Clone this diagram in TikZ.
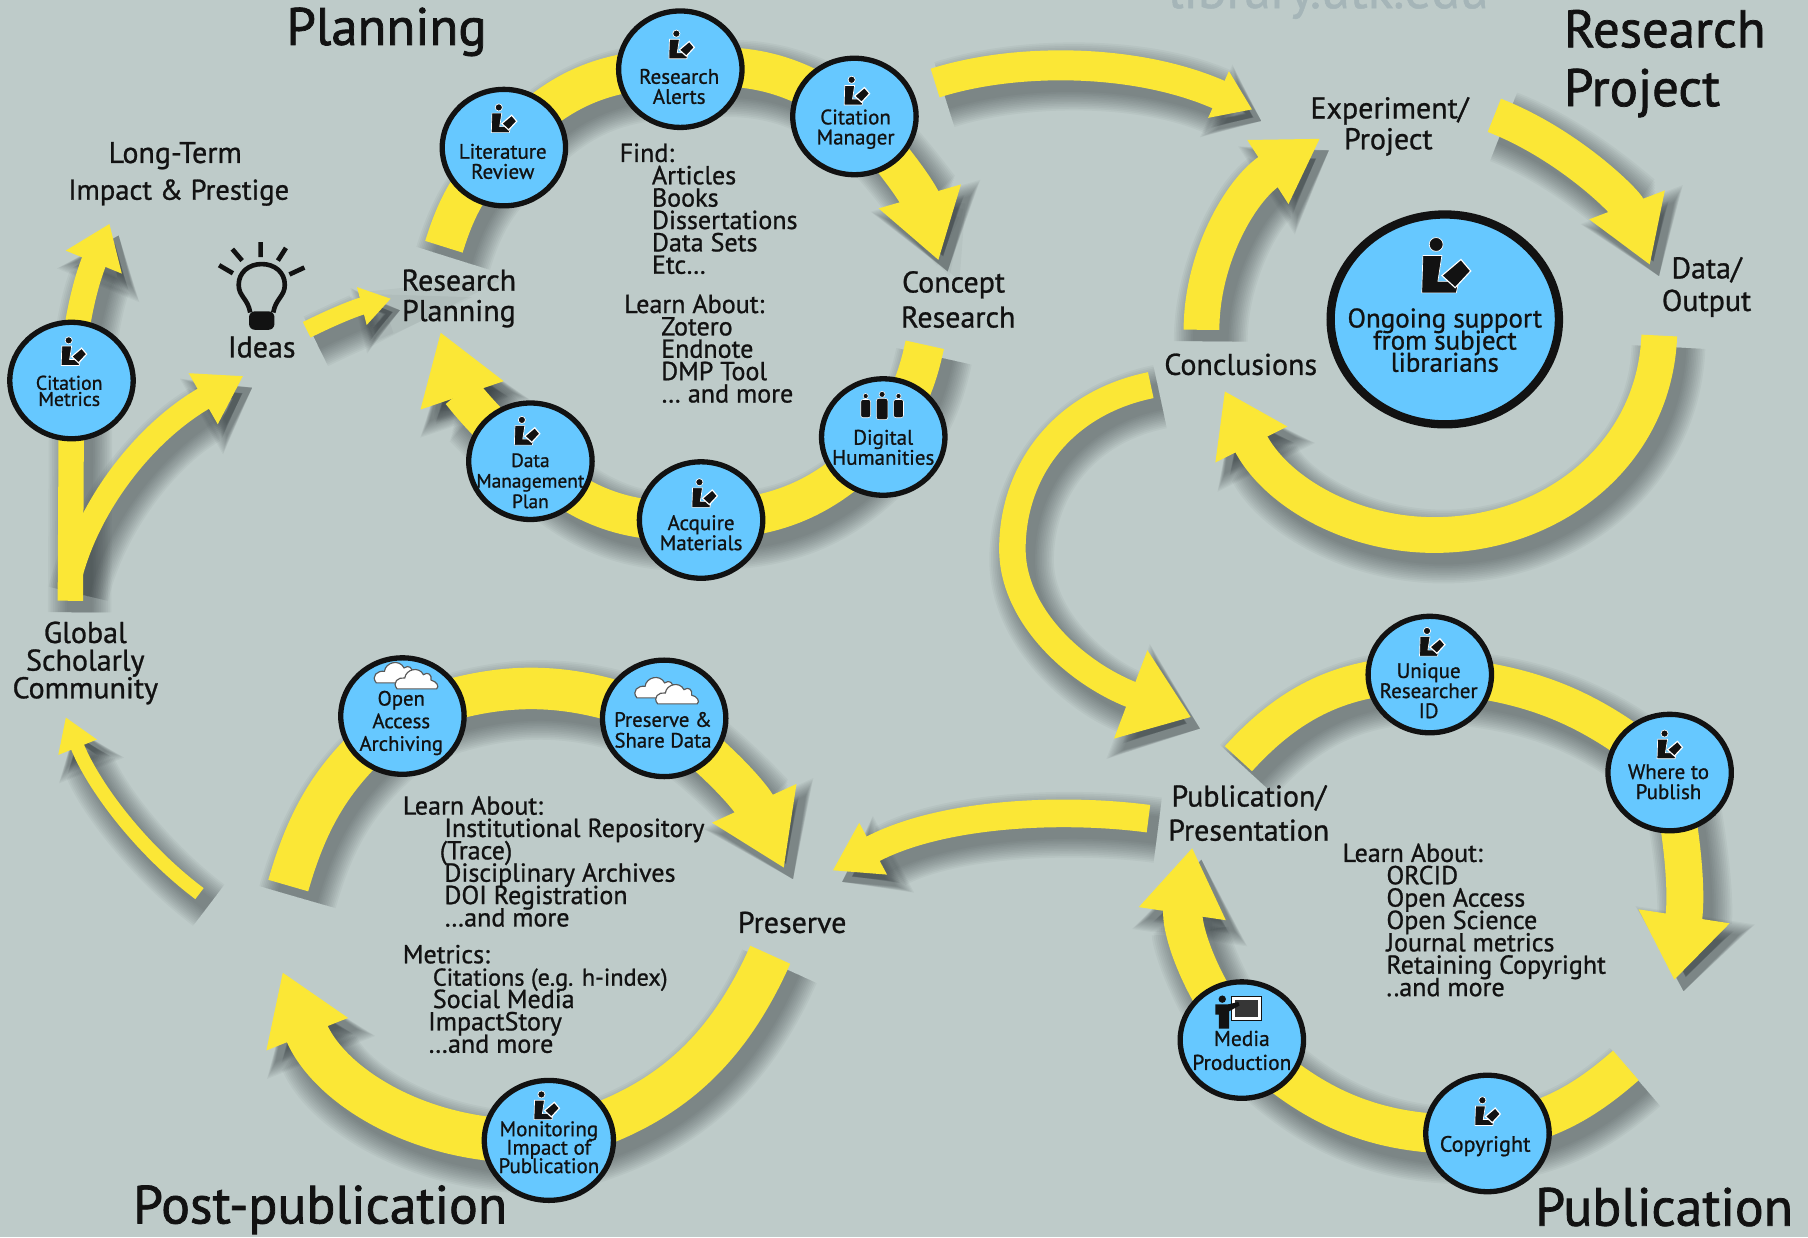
\documentclass[tikz,border=0pt]{standalone}
\usepackage{fontspec}
\setmainfont{PT Sans}[FakeBold=0.9]
\newfontfamily\ttlfont{PT Sans}[FakeBold=1.4]
\usetikzlibrary{arrows.meta,shapes.geometric}
\normallineskiplimit=-10pt
\lineskiplimit=-10pt
\definecolor{bgc}{RGB}{190,203,201}
\definecolor{yel}{RGB}{251,231,54}
\definecolor{blu}{RGB}{102,200,255}
\definecolor{shc}{RGB}{40,46,50}
\definecolor{faded}{RGB}{165,181,184}
\definecolor{ink}{RGB}{18,18,18}
\pgfdeclarelayer{bgl}\pgfdeclarelayer{shadowl}\pgfdeclarelayer{arrowl}
\pgfsetlayers{bgl,shadowl,arrowl,main}
% #1 band width, #2 head length, #3 head width, #4 path (all in picture units)
\newcommand\yarrow[4]{%
  \begin{pgfonlayer}{shadowl}
  \begin{scope}[transform canvas={xshift=4pt,yshift=-5pt}]
  \foreach \k in {0,...,11}{%
    \pgfmathsetlengthmacro\lw{#1*.5pt+\k*1.5pt}%
    \pgfmathsetlengthmacro\hl{#2*.5pt+\k*.5pt}%
    \pgfmathsetlengthmacro\hw{#3*.5pt+\k*1.1pt}%
    \draw[shc,opacity=.045,line width=\lw,-{Triangle[length=\hl,width=\hw]}] #4;
  }
  \end{scope}
  \end{pgfonlayer}
  \begin{pgfonlayer}{arrowl}
  \pgfmathsetlengthmacro\lw{#1*.5pt}%
  \pgfmathsetlengthmacro\hl{#2*.5pt}%
  \pgfmathsetlengthmacro\hw{#3*.5pt}%
  \draw[yel,line width=\lw,-{Triangle[length=\hl,width=\hw]}] #4;
  \end{pgfonlayer}
}
\tikzset{
  x=.5pt,y=-.5pt,
  bub/.style={ellipse,draw=ink,fill=blu,line width=2.3pt,minimum width=53.5pt,minimum height=50.5pt,inner sep=0pt,outer sep=0pt},
  bubtxt/.style={align=center,inner sep=0pt,text=ink,font=\fontsize{9.1}{8.7}\selectfont},
  lab/.style={align=center,inner sep=0pt,text=ink,font=\fontsize{13}{14}\selectfont},
  lst/.style={anchor=north west,align=left,inner sep=0pt,text=ink,font=\fontsize{11.3}{9.7}\selectfont},
  ttl/.style={anchor=mid west,inner sep=0pt,text=ink,font=\ttlfont\fontsize{22.9}{25}\selectfont},
  libicon/.pic={
    \fill[ink,draw=white,line width=.3pt] (-20,-7.5) -- (-3.5,-7.5) -- (-7,15) -- (11,15) -- (9,25) -- (-21,25) -- cycle;
    \fill[ink,draw=white,line width=.3pt] (-8.5,-17) circle[radius=6];
    \fill[ink,draw=white,line width=.5pt] (13,-4) -- (21.5,6) -- (8,20.5) -- (-3.5,10) -- cycle;
  },
  peopleicon/.pic={
    \foreach \px/\s in {-15/.9,0/1.05,15/.9}{
      \fill[ink,draw=white,line width=.25pt] (\px,-10*\s) circle[radius=2.6*\s];
      \fill[ink,draw=white,line width=.25pt,rounded corners=1pt] (\px-5*\s,-6.5*\s) rectangle (\px+5*\s,12*\s);
    }
  },
  mediaicon/.pic={
    \fill[white,draw=ink,line width=.4pt] (-7,-13) rectangle (19,8);
    \fill[ink!85] (-4,-10) rectangle (16,5);
    \fill[ink] (-15,-10.5) circle[radius=3.2];
    \fill[ink] (-21,-6) -- (-10,-6) -- (-1,-8) -- (0,-5) -- (-9,0) -- (-9,15) -- (-18,15) -- (-18,3) -- (-21,3) -- cycle;
  },
  cloudshape/.pic={
    \filldraw[fill=white,draw=black!65,line width=.5pt] (-18,10) .. controls (-23,4) and (-17,-1) .. (-11,0) .. controls (-10,-8) and (2,-11) .. (6,-3) .. controls (10,-6) and (14,-3) .. (13,2) .. controls (18,3) and (21,8) .. (18,10) -- cycle;
  },
  cloudicon/.pic={
    \pic at (-8,-5) {cloudshape};
    \pic[scale=.95] at (10,1) {cloudshape};
  },
}
\begin{document}
\begin{tikzpicture}
\useasboundingbox (0,0) rectangle (1568,1073);
\begin{pgfonlayer}{bgl}
  \fill[bgc] (0,0) rectangle (1568,1073);
\end{pgfonlayer}

% ---- bubbles
\node[bub] (alerts) at (590,60) {};
\node[bub] (manager) at (741,101) {};
\node[bub] (lit) at (437,128) {};
\node[bub] (digital) at (766,379) {};
\node[bub] (acquire) at (608,451) {};
\node[bub] (dmp) at (460,400) {};
\node[bub] (metrics) at (62,330) {};
\node[bub] (uid) at (1240,585) {};
\node[bub] (where) at (1448,670) {};
\node[bub] (copyright) at (1290,983) {};
\node[bub] (media) at (1077,902) {};
\node[bub] (share) at (576,623) {};
\node[bub] (oa) at (349,621) {};
\node[bub,minimum width=56pt,minimum height=52pt] (monitor) at (476,989) {};
\node[bub,line width=3.6pt,minimum width=99pt,minimum height=91pt] (support) at (1253,277) {};

% ---- bubble texts and icons
\node[bubtxt] (alertsT) at (589,75) {Research\\Alerts};
\pic[scale=.52] at (591,38) {libicon};
\node[bubtxt] (managerT) at (742,112) {Citation\\Manager};
\pic[scale=.52] at (743,78) {libicon};
\node[bubtxt] (litT) at (436,140) {Literature\\Review};
\pic[scale=.52] at (437,102) {libicon};
\node[bubtxt] (digitalT) at (766,388) {Digital\\Humanities};
\pic[scale=.95] at (765,352) {peopleicon};
\node[bubtxt] (acquireT) at (608,462) {Acquire\\Materials};
\pic[scale=.52] at (611,427) {libicon};
\node[bubtxt,font=\fontsize{8.4}{8.9}\selectfont] (dmpT) at (460,417) {Data\\Management\\Plan};
\pic[scale=.52] at (457,373) {libicon};
\node[bubtxt,font=\fontsize{8.6}{7}\selectfont] (metricsT) at (60,339) {Citation\\Metrics};
\pic[scale=.52] at (64,304) {libicon};
\node[bubtxt] (uidT) at (1239,599) {Unique\\Researcher\\ID};
\pic[scale=.52] at (1242,556) {libicon};
\node[bubtxt] (whereT) at (1447,678) {Where to\\Publish};
\pic[scale=.52] at (1448,645) {libicon};
\node[bubtxt,font=\fontsize{9.6}{9}\selectfont] (copyrightT) at (1288,994) {Copyright};
\pic[scale=.52] at (1290,963) {libicon};
\node[bubtxt,font=\fontsize{9.3}{10.4}\selectfont] (mediaT) at (1077,911) {Media\\Production};
\pic at (1075,877) {mediaicon};
\node[bubtxt,font=\fontsize{9}{9.8}\selectfont] (oaT) at (348,627) {Open\\Access\\Archiving};
\pic[scale=.95] at (352,587) {cloudicon};
\node[bubtxt,font=\fontsize{9}{9}\selectfont] (shareT) at (575,633) {Preserve \&\\Share Data};
\pic[scale=.95] at (578,600) {cloudicon};
\node[bubtxt,font=\fontsize{9.1}{8}\selectfont] (monitorT) at (476,995) {Monitoring\\Impact of\\Publication};
\pic[scale=.52] at (474,958) {libicon};
\node[bubtxt,font=\fontsize{11.7}{9.6}\selectfont] (supportT) at (1253,295) {Ongoing support\\from subject\\librarians};
\pic[scale=1] at (1254,229) {libicon};

% ---- light bulb
\draw[ink,line width=2pt] (217,271) .. controls (215,259) and (207,257) .. (207,247) .. controls (207,236) and (216,229) .. (227,229) .. controls (238,229) and (247,236) .. (247,247) .. controls (247,257) and (239,259) .. (237,271);
\fill[ink,rounded corners=2.5pt] (216,270) rectangle (238,286);
\draw[ink,line width=2pt] (226,210) -- (226,223) (201.5,216) -- (210,226) (190,230) -- (202,237) (248,215) -- (241,226) (264,232) -- (251,238);

% ---- free ends of the arrows
\coordinate (aS) at (385,214);   \coordinate (aE) at (814,226);
\coordinate (bS) at (802,299);   \coordinate (bE) at (382,288);
\coordinate (iS) at (266,286);   \coordinate (iE) at (339,259);
\coordinate (gS) at (61,521);    \coordinate (gE) at (95,194);
\coordinate (hS) at (60,505);    \coordinate (hE) at (211,326);
\coordinate (pS) at (811,72);    \coordinate (pE) at (1086,95);
\coordinate (cS) at (1042,286);  \coordinate (cE) at (1145,120);
\coordinate (eS) at (1296,100);  \coordinate (eE) at (1431,230);
\coordinate (dS) at (1439,291);  \coordinate (dM) at (1244,464);  \coordinate (dE) at (1062,339);
\coordinate (kS) at (998,334);   \coordinate (kM) at (878,476);   \coordinate (kE) at (1033,622);
\coordinate (mS) at (1074,658);  \coordinate (mE) at (1452,850);
\coordinate (nS) at (1410,924);  \coordinate (nE) at (1034,735);
\coordinate (qS) at (996,710);   \coordinate (qE) at (722,755);
\coordinate (rS) at (250,768);   \coordinate (rE) at (680,753);
\coordinate (sS) at (668,828);   \coordinate (sE) at (245,843);
\coordinate (tS) at (173,775);   \coordinate (tE) at (57,622);

% ---- arrows
\yarrow{34}{58}{70}{(aS) to[bend left=14] (lit.center) to[bend left=25] (alerts.center) to[bend left=22] (manager.center) to[bend left=14] (aE)}
\yarrow{34}{58}{72}{(bS) to[bend left=12] (digital.center) to[bend left=24] (acquire.center) to[bend left=23] (dmp.center) to[bend left=16] (bE)}
\yarrow{15}{26}{32}{(iS) to[bend left=6] (iE)}
\yarrow{22}{36}{50}{(gS) -- (metrics.center) .. controls (64,290) and (72,250) .. (gE)}
\yarrow{20}{40}{48}{(hS) .. controls (75,440) and (125,375) .. (hE)}
\yarrow{26}{32}{42}{(pS) .. controls (880,50) and (985,50) .. (pE)}
\yarrow{31}{54}{62}{(cS) .. controls (1042,225) and (1075,165) .. (cE)}
\yarrow{31}{56}{66}{(eS) .. controls (1360,125) and (1410,175) .. (eE)}
\yarrow{31}{52}{66}{(dS) .. controls (1435,395) and (1345,464) .. (dM) .. controls (1170,464) and (1105,425) .. (dE)}
\yarrow{23}{56}{78}{(kS) .. controls (920,350) and (878,410) .. (kM) .. controls (878,535) and (935,585) .. (kE)}
\yarrow{32}{56}{76}{(mS) to[bend left=24] (uid.center) to[bend left=18] (where.center) to[bend left=10] (mE)}
\yarrow{34}{58}{72}{(nS) to[bend left=15] (copyright.center) to[bend left=24] (media.center) to[bend left=23] (nE)}
\yarrow{24}{40}{48}{(qS) .. controls (920,700) and (815,705) .. (qE)}
\yarrow{36}{62}{76}{(rS) to[bend left=18] (oa.center) to[bend left=22] (share.center) to[bend left=14] (rE)}
\yarrow{38}{58}{72}{(sS) to[bend left=26] (monitor.center) to[bend left=36] (sE)}
\yarrow{12}{28}{34}{(tS) .. controls (120,735) and (80,680) .. (tE)}

% ---- titles
\node[ttl] (tPlan) at (248,34) {Planning};
\node[ttl] (tRes1) at (1356,36) {Research};
\node[ttl] (tRes2) at (1356,87) {Project};
\node[ttl,font=\ttlfont\fontsize{23.3}{25}\selectfont] (tPost) at (115,1056) {Post-publication};
\node[ttl,font=\ttlfont\fontsize{23.3}{25}\selectfont] (tPub) at (1331,1058) {Publication};
\node[anchor=base,inner sep=0pt,text=faded,font=\fontsize{23}{24}\selectfont] (tWeb) at (1152,7) {library.utk.edu};

% ---- stage labels
\node[lab] (lLong) at (152,135) {Long-Term};
\node[lab,font=\fontsize{12.4}{14}\selectfont] (lImpact) at (155,167) {Impact \& Prestige};
\node[lab] (lIdeas) at (227,301) {Ideas};
\node[lab] (lRP1) at (398,243) {Research};
\node[lab] (lRP2) at (398,272) {Planning};
\node[lab] (lCR1) at (827,247) {Concept};
\node[lab] (lCR2) at (831,275) {Research};
\node[lab] (lEx1) at (1205,96) {Experiment/};
\node[lab] (lEx2) at (1204,123) {Project};
\node[lab] (lD1) at (1480,234) {Data/};
\node[lab] (lD2) at (1480,263) {Output};
\node[lab] (lConc) at (1076,316) {Conclusions};
\node[lab,font=\fontsize{13}{12}\selectfont] (lG) at (74,575) {Global\\Scholarly\\Community};
\node[lab] (lPP1) at (1083,692) {Publication/};
\node[lab] (lPP2) at (1083,720) {Presentation};
\node[lab] (lPres) at (687,800) {Preserve};

% ---- lists
\node[lst] (listFind) at (537,124) {Find:\\
  \hspace*{14pt}Articles\\
  \hspace*{14pt}Books\\
  \hspace*{14pt}Dissertations\\
  \hspace*{14pt}Data Sets\\
  \hspace*{14pt}Etc\dots};
\node[lst] (listTools) at (541,255) {Learn About:\\
  \hspace*{16pt}Zotero\\
  \hspace*{16pt}Endnote\\
  \hspace*{16pt}DMP Tool\\
  \hspace*{16pt}\dots\ and more};
\node[lst] (listPub) at (1164,731) {Learn About:\\
  \hspace*{19pt}ORCID\\
  \hspace*{19pt}Open Access\\
  \hspace*{19pt}Open Science\\
  \hspace*{19pt}Journal metrics\\
  \hspace*{19pt}Retaining Copyright\\
  \hspace*{19pt}..and more};
\node[lst] (listPres) at (349,690) {Learn About:\\
  \hspace*{18pt}Institutional Repository\\
  \hspace*{16pt}(Trace)\\
  \hspace*{18pt}Disciplinary Archives\\
  \hspace*{18pt}DOI Registration\\
  \hspace*{18pt}\dots and more};
\node[lst] (listMetrics) at (349,819) {Metrics:\\
  \hspace*{13pt}{\fontsize{10.5}{9.7}\selectfont Citations (e.g. h-index)}\\
  \hspace*{13pt}Social Media\\
  \hspace*{11pt}ImpactStory\\
  \hspace*{11pt}\dots and more};
\end{tikzpicture}
\end{document}
